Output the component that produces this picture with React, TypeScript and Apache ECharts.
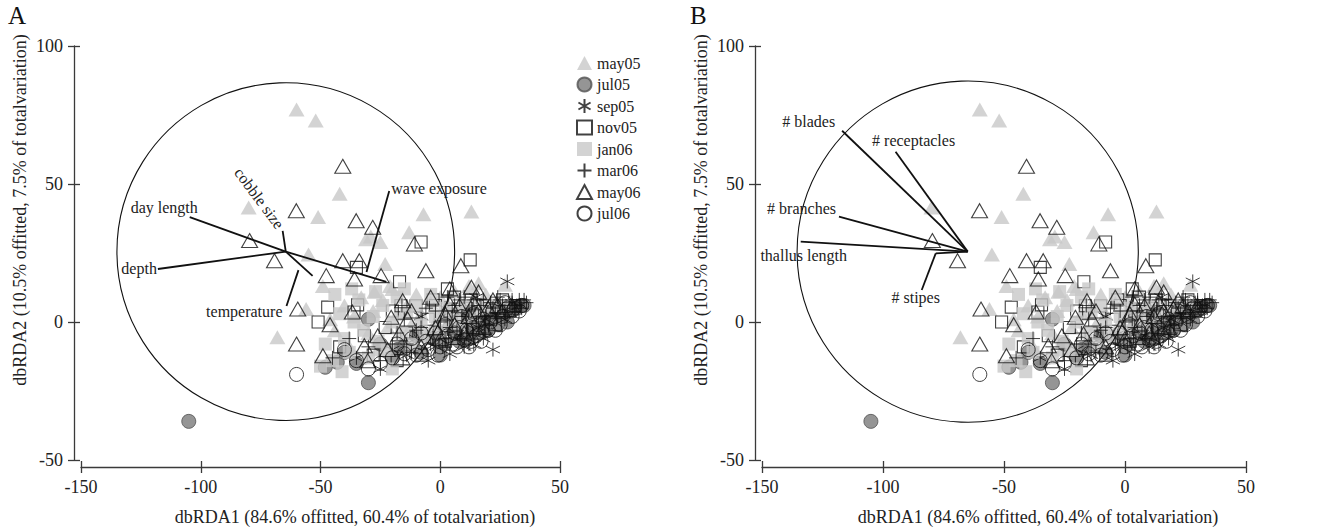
import React, { useEffect, useRef } from "react";
import * as echarts from "echarts";

// ---------- data ----------
const groupNames = ["may05", "jul05", "sep05", "nov05", "jan06", "mar06", "may06", "jul06"];

const may05 = [
  [-60, 77], [-52, 73], [-80, 41.5], [-42, 46.5], [-51, 38], [-31, 30], [-55, 24.5], [-25, 29], [-49, 13],
  [-23, 21], [-56, 4.7], [-46, 1], [-68, -5.5], [-27.5, 11], [-21, 13], [13, 40], [-7, 39], [-29, 31], [-13, 32.5],
  [-44, -3], [-40, 6], [-38, -9], [-36, 2], [-34, -13], [-33, 9], [-30, -4], [-28, 4], [-26, -10], [-24, 8],
  [-22, -2], [-20, 12], [-18, 3], [-16, -7], [-14, 6], [-12, -1], [-10, 10], [-8, 3], [-6, -5], [-4, 7], [-2, 0],
  [0, 9], [3, 4], [6, 11], [9, 6], [12, 13], [16, 14], [19, 10], [27, 13.5],
];
const jul05 = [
  [-105, -36], [-48, -16.4], [-43, -14.6], [-30, -22], [-30, 1], [-40, -11], [-20, -13], [-15, -9], [-8, -11],
  [-3, -6], [2, -8], [6, -4], [10, -3], [14, -1], [18, 0], [22, 2], [26, 3], [30, 4], [34, 6], [20, -3], [12, -6], [-25, -8],
  [-10, -5], [0, -12], [4, -2], [8, -7], [16, -4], [24, -1], [28, 0], [32, 5], [35, 6], [-18, -10], [-35, -15], [12, 2],
];
const sep05 = [
  [28, 14.7], [-25, -17], [4, -11.6], [22, -10], [-20, -10], [-10, -6], [0, -3], [8, -5], [12, 2], [16, -2], [20, 4],
  [25, 5], [30, 7], [-35, -13], [-5, -14], [10, -9], [18, -6], [15, 9],
  [-14, -12], [-2, -9], [5, -1], [14, -8], [19, 1], [23, 6], [27, 1], [33, 6], [-8, 2], [2, 5], [11, -1], [7, 3],
];
const nov05 = [
  [-8, 29], [12.5, 22.5], [-35, 19.8], [-17, 14.6], [-47, 5.4], [-34.5, 6.2], [-16.4, 5.9], [-10.1, 5.9], [-36, 3.6],
  [-31.7, -5], [-42, -9], [-51, 0], [-23, -2], [-12, -8], [-5, 1], [0, -4], [4, 4], [8, 0], [11, 5], [14, -2], [17, 3],
  [21, 1], [25, 5], [29, 4], [-2, 6], [6, -6], [-28, -12], [-18, -14],
  [-14, -4], [-8, -12], [-3, 8], [2, -7], [6, 9], [9, -4], [13, 8], [16, -4], [19, 6], [23, -1], [26, 8], [31, 6],
  [-20, 4], [3, 12],
];
const jan06 = [
  [-48, -8], [-45, -14], [-42, 3], [-40, -6], [-38, -11], [-36, 0], [-34, 8], [-32, -3], [-30, -13], [-28, 2],
  [-26, -7], [-24, 6], [-22, -10], [-20, 0], [-18, 9], [-16, -4], [-14, 3], [-12, -8], [-10, 6], [-8, -1], [-6, -5],
  [-4, 10], [-2, 2], [0, -3], [2, 5], [4, -1], [6, 3], [8, -2], [10, 6], [-44, 10], [-37, 12], [-27, 11], [-15, 12],
  [-50, -16], [-41, -18], [-20, -17], [14, 2], [18, 5], [22, 6], [26, 6],
];
const mar06 = [
  [-45, -13], [-38, -6], [-30, -9], [-25, -14], [-18, -4], [-12, -11], [-8, -2], [-4, -8], [0, 0], [2, -6], [5, 4],
  [7, -3], [9, 2], [11, -4], [13, 5], [15, 0], [17, 6], [19, 2], [21, 7], [23, 3], [25, 8], [27, 4], [29, 7], [31, 5],
  [33, 8], [36, 7], [-2, 4], [-15, 1], [3, 9], [8, 8], [-20, -8], [12, -8],
  [-10, -3], [-6, 5], [-3, -5], [1, -9], [4, -2], [6, 6], [9, -6], [10, 9], [12, 4], [14, -5], [16, 2], [18, 8],
  [20, -1], [22, 5], [24, 2], [26, 6], [28, 2], [30, 8], [32, 6], [34, 5], [35, 8], [-14, -8], [-16, 6], [3, 1],
  [19, -4], [24, 9], [14, 8],
];
const may06 = [
  [-40.7, 56.4], [-60.1, 40.3], [-35.1, 36.7], [-28.2, 34.3], [-79.6, 29.5], [-69.2, 22.2], [-40.7, 22.2],
  [-33.8, 22.2], [-47.6, 16.8], [-35.8, 15.6], [-24.7, 16.8], [-59.5, 4.7], [-36.7, 3.6], [-10.8, 28.3], [8.6, 20.4],
  [-6, 18.6], [13, 12.6], [16, 10.9], [-15.7, 7.7], [-20.5, 1.7], [-13.6, 1.1], [-26.1, -5], [-17.1, -4.3],
  [-31.7, -8.6], [-49, -12.2], [-30.3, -14], [4, 6.5], [8, 5.9], [-8, -9], [-2, -2], [2, 3], [6, -1], [12, 2],
  [16, 4], [20, 5], [24, 6], [-46, -1], [-60, -8],
  [-22, -10], [-12, 4], [-4, 9], [0, -6], [10, -4], [14, 7], [18, -2], [22, 8], [26, 4], [30, 6], [-16, -13], [4, 12],
];
const jul06 = [
  [-60, -19], [-30, -17], [-25, -15], [-20, -13], [-15, -11.5], [-10, -12], [-5, -10], [0, -9], [5, -8], [10, -6.5],
  [15, -5], [20, -3], [25, -1], [30, 2], [33, 4], [-35, -14], [-40, -10], [-2, -4], [8, -2], [18, 1], [28, 5], [12, -9],
  [-18, -8], [-12, -6], [-6, -7], [-1, -12], [3, -5], [7, -9], [11, -3], [13, -7], [16, -1], [21, 0], [23, -3],
  [26, 2], [31, 5], [34, 6], [-8, -4], [6, -4], [17, -7], [2, -1], [9, 2], [14, 3], [22, 4], [27, 7],
];
const groupData = [may05, jul05, sep05, nov05, jan06, mar06, may06, jul06];

// correlation circle (centre x, centre y, radius in x units)
const circleA = [-64.5, 25.5, 70.5];
const circleB = [-65.0, 25.5, 70.5];

// panel A vectors
const vecNamesA = ["day length", "depth", "cobble size", "temperature", "wave exposure"];
const vecEndXA = [-104.6, -117.9, -65.8, -53.3, -22.5];
const vecEndYA = [38.0, 19.2, 33.0, 16.7, 14.5];
const leaderA = [
  [-59.2, 18.8, -64.2, 5.8],
  [-30.8, 18.1, -21.3, 47.5],
];
const labelAnchorXA = [-104.6, -117.9, -65.8, -64.2, -21.3];
const labelAnchorYA = [38.0, 19.2, 33.0, 5.8, 47.5];

// panel B vectors
const vecNamesB = ["# blades", "# receptacles", "# branches", "thallus length", "# stipes"];
const vecEndXB = [-116.9, -94.8, -118.2, -134.0, -78.2];
const vecEndYB = [69.3, 61.7, 38.2, 29.1, 24.9];
const leaderB = [[-78.2, 24.9, -84.0, 11.6]];
const labelAnchorXB = [-116.9, -94.8, -118.2, -134.0, -84.0];
const labelAnchorYB = [69.3, 61.7, 38.2, 29.1, 11.6];

const xTicks = [-150, 50, 50]; // min, max, interval
const yTicks = [-50, 100, 50];

const xTitle = "dbRDA1 (84.6% offitted, 60.4% of totalvariation)";
const yTitle = "dbRDA2 (10.5% offitted, 7.5% of totalvariation)";
const panelLetters = ["A", "B"];

// ---------- styles / layout ----------
const FONT = "Liberation Serif";
const labelLayoutA = [
  { dx: 8, dy: -10, align: "right", rot: 0 },
  { dx: -1, dy: -1, align: "right", rot: 0 },
  { dx: -2, dy: -4, align: "right", rot: -0.93 },
  { dx: -4, dy: 6, align: "right", rot: 0 },
  { dx: 2, dy: -2, align: "left", rot: 0 },
];
const labelLayoutB = [
  { dx: -7, dy: -9, align: "right", rot: 0 },
  { dx: 18, dy: -11, align: "center", rot: 0 },
  { dx: -3, dy: -8, align: "right", rot: 0 },
  { dx: 3, dy: 14, align: "center", rot: 0 },
  { dx: -6, dy: 8, align: "center", rot: 0 },
];

const ASTER = "path://M10,0 L10,20 M1.34,5 L18.66,15 M1.34,15 L18.66,5";
const PLUS = "path://M10,0 L10,20 M0,10 L20,10";
const CLEAR = "rgba(255,255,255,0)";
const INK = "#111";
const AXIS = "#3a3a3a";
const groupStyle: any[] = [
  { symbol: "triangle", size: [16, 14], itemStyle: { color: "#c8c8c8" } },
  { symbol: "circle", size: 14, itemStyle: { color: "#7a7a7a", borderColor: "#505050", borderWidth: 1 } },
  { symbol: ASTER, size: 14, itemStyle: { color: CLEAR, borderColor: INK, borderWidth: 1 } },
  { symbol: "rect", size: 12, itemStyle: { color: CLEAR, borderColor: INK, borderWidth: 1.1 } },
  { symbol: "rect", size: 13, itemStyle: { color: "#c8c8c8" } },
  { symbol: PLUS, size: 14, itemStyle: { color: CLEAR, borderColor: INK, borderWidth: 1 } },
  { symbol: "triangle", size: [16, 14], itemStyle: { color: CLEAR, borderColor: INK, borderWidth: 1.1 } },
  { symbol: "circle", size: 14, itemStyle: { color: CLEAR, borderColor: INK, borderWidth: 1 } },
];

// plot areas (data) and axis positions for each panel
const panels = [
  { left: 81, top: 46, width: 479, height: 414, axisX: 74, axisY: 467, titleX: 355, yTitleX: 20 },
  { left: 762, top: 46, width: 484, height: 414, axisX: 755, axisY: 467, titleX: 1038, yTitleX: 701 },
];

function hiddenAxis(gi: number, min: number, max: number) {
  return { type: "value", gridIndex: gi, min, max, show: false, splitLine: { show: false } };
}

function visibleAxis(gi: number, ticks: number[], position: string, inside: boolean, withLabels: boolean) {
  return {
    type: "value", gridIndex: gi, min: ticks[0], max: ticks[1], interval: ticks[2], position,
    axisLine: { show: !inside, lineStyle: { color: AXIS, width: 1.3 } },
    axisTick: { show: true, inside, length: 6, lineStyle: { color: AXIS, width: 1.3 } },
    axisLabel: withLabels
      ? { show: true, color: "#222", fontFamily: FONT, fontSize: 18, margin: 11 }
      : { show: false },
    splitLine: { show: false },
  };
}

function overlaySeries(xi: number, yi: number, circle: number[], ex: number[], ey: number[], leaders: number[][],
  names: string[], ax: number[], ay: number[], layout: any[]) {
  const list: any[] = [];
  list.push({
    type: "custom", xAxisIndex: xi, yAxisIndex: yi, clip: false, silent: true, z: 5,
    data: [circle],
    renderItem: (_p: any, api: any) => {
      const c = api.coord([api.value(0), api.value(1)]);
      const r = api.size([api.value(2), 0])[0];
      return { type: "circle", shape: { cx: c[0], cy: c[1], r }, style: { fill: "none", stroke: INK, lineWidth: 1.1 } };
    },
  });
  const segs: number[][] = ex.map((x, i) => [circle[0], circle[1], x, ey[i]]);
  leaders.forEach((l) => segs.push(l));
  list.push({
    type: "custom", xAxisIndex: xi, yAxisIndex: yi, clip: false, silent: true, z: 6,
    data: segs,
    renderItem: (_p: any, api: any) => {
      const a = api.coord([api.value(0), api.value(1)]);
      const b = api.coord([api.value(2), api.value(3)]);
      return { type: "line", shape: { x1: a[0], y1: a[1], x2: b[0], y2: b[1] }, style: { stroke: INK, lineWidth: 1.8 } };
    },
  });
  list.push({
    type: "custom", xAxisIndex: xi, yAxisIndex: yi, clip: false, silent: true, z: 7,
    data: ax.map((x, i) => [x, ay[i], i]),
    renderItem: (_p: any, api: any) => {
      const i = api.value(2);
      const c = api.coord([api.value(0), api.value(1)]);
      const L = layout[i];
      return {
        type: "text", x: c[0] + L.dx, y: c[1] + L.dy, rotation: L.rot,
        style: { text: names[i], fill: "#222", fontFamily: FONT, fontSize: 16, align: L.align, verticalAlign: "middle" },
      };
    },
  });
  return list;
}

function buildOption() {
  const grid: any[] = [];
  const xAxis: any[] = [];
  const yAxis: any[] = [];
  const series: any[] = [];
  const graphic: any[] = [];
  const overlayDefs = [
    [circleA, vecEndXA, vecEndYA, leaderA, vecNamesA, labelAnchorXA, labelAnchorYA, labelLayoutA],
    [circleB, vecEndXB, vecEndYB, leaderB, vecNamesB, labelAnchorXB, labelAnchorYB, labelLayoutB],
  ];

  panels.forEach((p, pi) => {
    const gD = grid.length;
    grid.push({ left: p.left, top: p.top, width: p.width, height: p.height });
    const gX = grid.length;
    grid.push({ left: p.left, top: p.top, width: p.width, height: p.axisY - p.top });
    const gY = grid.length;
    grid.push({ left: p.axisX, top: p.top, width: p.left + p.width - p.axisX, height: p.height });

    const dX = xAxis.length;
    xAxis.push(hiddenAxis(gD, xTicks[0], xTicks[1]));
    xAxis.push(visibleAxis(gX, xTicks, "bottom", false, true));
    xAxis.push(visibleAxis(gX, xTicks, "bottom", true, false));
    xAxis.push(hiddenAxis(gY, 0, 1));

    const dY = yAxis.length;
    yAxis.push(hiddenAxis(gD, yTicks[0], yTicks[1]));
    yAxis.push(hiddenAxis(gX, 0, 1));
    yAxis.push(visibleAxis(gY, yTicks, "left", false, true));
    yAxis.push(visibleAxis(gY, yTicks, "left", true, false));

    groupNames.forEach((name, k) => {
      const st = groupStyle[k];
      series.push({
        type: "scatter", name, xAxisIndex: dX, yAxisIndex: dY, z: 2 + k * 0.01,
        symbol: st.symbol, symbolSize: st.size, itemStyle: st.itemStyle,
        data: groupData[k], emphasis: { disabled: true },
      });
    });
    const o: any = overlayDefs[pi];
    series.push(...overlaySeries(dX, dY, o[0], o[1], o[2], o[3], o[4], o[5], o[6], o[7]));

    graphic.push({
      type: "text", x: p.titleX, y: 517,
      style: { text: xTitle, fontFamily: FONT, fontSize: 18, fill: "#222", align: "center", verticalAlign: "middle" },
    });
    graphic.push({
      type: "text", x: p.yTitleX, y: 210, rotation: Math.PI / 2,
      style: { text: yTitle, fontFamily: FONT, fontSize: 18, fill: "#222", align: "center", verticalAlign: "middle" },
    });
    graphic.push({
      type: "text", x: pi === 0 ? 8 : 690, y: 3,
      style: { text: panelLetters[pi], fontFamily: FONT, fontSize: 25, fill: "#111", align: "left", verticalAlign: "top" },
    });
  });

  return {
    animation: false,
    backgroundColor: "#fff",
    grid,
    xAxis,
    yAxis,
    legend: {
      data: groupNames,
      orient: "vertical", left: 571, top: 50,
      itemWidth: 15, itemHeight: 14, itemGap: 5.5,
      textStyle: { fontFamily: FONT, fontSize: 16, color: "#222" },
      selectedMode: false,
    },
    graphic,
    series,
  };
}

export default function App() {
  const ref = useRef<HTMLDivElement>(null);
  useEffect(() => {
    const chart = echarts.init(ref.current as HTMLDivElement, null, { renderer: "svg" });
    chart.setOption(buildOption() as any);
    return () => chart.dispose();
  }, []);
  return (
    <div
      ref={ref}
      style={{ position: "fixed", left: 0, top: 0, width: 1333, height: 530, background: "#fff" }}
    />
  );
}
